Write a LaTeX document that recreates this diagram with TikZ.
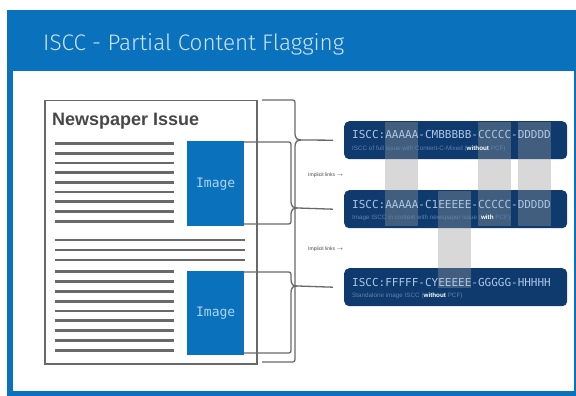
\documentclass[tikz,border=0pt]{standalone}
\usepackage{fontspec}
\setmainfont{Liberation Sans}
\newfontfamily\codefont{DejaVu Sans Mono}
\newfontfamily\titlefont{Fira Sans Light}
\definecolor{hdrblue}{RGB}{10,114,188}
\definecolor{navy}{RGB}{14,58,110}
\definecolor{codecol}{RGB}{172,198,230}
\definecolor{notecol}{RGB}{95,130,175}
\definecolor{linegray}{RGB}{105,105,105}
\definecolor{titlecol}{RGB}{205,226,244}
\definecolor{imgtext}{RGB}{175,212,240}

\begin{document}
\begin{tikzpicture}[x=1pt, y=-1pt,
	isccbox/.style = {fill=navy, rounded corners=5pt, minimum width=223pt, minimum height=38pt, anchor=north west, inner sep=0},
	code/.style = {text=codecol, font=\codefont\fontsize{11}{13}\selectfont, anchor=base west, inner sep=0},
	note/.style = {text=notecol, font=\fontsize{6.3}{7}\selectfont, anchor=base west, inner sep=0},
	imgbox/.style = {fill=hdrblue, text=imgtext, font=\codefont\fontsize{13}{15}\selectfont, minimum width=57pt, anchor=north west, inner sep=0},
	txt/.style = {draw=linegray, line width=2.8pt},
	brace/.style = {draw=linegray, line width=1.3pt},
	link/.style = {fill=black!40, opacity=0.38},
	hint/.style = {text=black!75, font=\fontsize{5}{6}\selectfont, anchor=west, inner sep=0}]
		\useasboundingbox (0,0) rectangle (576,396);
		\fill[hdrblue] (7,10) rectangle (576,396);
		\fill[white] (13,71) rectangle (574,391);
		\node[anchor=base west, inner sep=0, text=titlecol, font=\titlefont\fontsize{22.5}{26}\selectfont] (title) at (43,51) {ISCC - Partial Content Flagging};

		% newspaper page
		\node[draw=linegray, line width=1.5pt, minimum width=212pt, minimum height=263pt, anchor=north west, inner sep=0] (issue) at (44,100) {};
		\node[anchor=base west, inner sep=0, text=black!72, font=\bfseries\fontsize{18}{20}\selectfont] (issuehead) at (52,125) {Newspaper Issue};
		\foreach \i in {0,...,8} {
			\draw[txt] (55,143.5+9.7*\i) -- (174,143.5+9.7*\i);
			\draw[txt] (55,271.7+9.8*\i) -- (174,271.7+9.8*\i);
		}
		\foreach \y in {240,250,260}
			\draw[txt] (55,\y) -- (245,\y);
		\node[imgbox, minimum height=85pt] (img1) at (187,141) {Image};
		\node[imgbox, minimum height=84pt] (img2) at (187,271) {Image};

		% ISCC codes
		\node[isccbox] (iscc1) at (344,121) {};
		\node[isccbox] (iscc2) at (344,190) {};
		\node[isccbox] (iscc3) at (344,268) {};
		\fill[link] (385,122) rectangle (418,226);
		\fill[link] (478,122) rectangle (511,226);
		\fill[link] (518,122) rectangle (551,226);
		\fill[link] (438,191) rectangle (471,288);
		\node[code] (code1) at (352,139) {ISCC:AAAAA-CMBBBBB-CCCCC-DDDDD};
		\node[note] (note1) at (352,150) {ISCC of full issue with Content-C-Mixed (\textcolor{white}{\textbf{without}} PCF)};
		\node[code] (code2) at (352,208) {ISCC:AAAAA-C1EEEEE-CCCCC-DDDDD};
		\node[note] (note2) at (352,219) {Image ISCC in context with newspaper issue (\textcolor{white}{\textbf{with}} PCF)};
		\node[code] (code3) at (352,286) {ISCC:FFFFF-CYEEEEE-GGGGG-HHHHH};
		\node[note] (note3) at (352,297) {Standalone image ISCC (\textcolor{white}{\textbf{without}} PCF)};
		\node[hint] (hint1) at (308,175) {Implicit links $\rightarrow$};
		\node[hint] (hint2) at (308,249) {Implicit links $\rightarrow$};

		% braces
		\draw[brace] (262,100) -- (290,100) .. controls (295,100) .. (295,105) -- (295,132)
			.. controls (295,139) and (297,140) .. (302,140) coordinate (tip0)
			.. controls (297,140) and (295,141) .. (295,148) -- (295,357)
			.. controls (295,362) .. (290,362) -- (262,362);
		\draw[brace] (244,142) -- (286,142) .. controls (291,142) .. (291,147) -- (291,200)
			.. controls (291,207) and (293,208) .. (298,208) coordinate (tip1)
			.. controls (293,208) and (291,209) .. (291,216) -- (291,219)
			.. controls (291,224) .. (286,224) -- (244,224);
		\draw[brace] (244,272) -- (286,272) .. controls (291,272) .. (291,277) -- (291,279)
			.. controls (291,285) and (293,286) .. (298,286) coordinate (tip2)
			.. controls (293,286) and (291,287) .. (291,293) -- (291,348)
			.. controls (291,353) .. (286,353) -- (244,353);
		\draw[brace] (tip0) -- ([xshift=-11pt]iscc1.west);
		\draw[brace] (tip1) -- ([xshift=-11pt]iscc2.west);
		\draw[brace] (tip2) -- ([xshift=-11pt]iscc3.west);
	\end{tikzpicture}
\end{document}
